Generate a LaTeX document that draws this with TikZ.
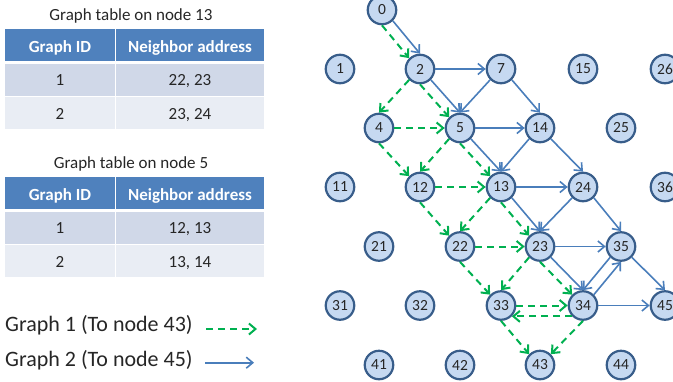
\documentclass[tikz,border=0pt]{standalone}
\usepackage{fontspec}
\setmainfont{Carlito}
\usetikzlibrary{arrows.meta}

\definecolor{nodefill}{HTML}{C6D9F1}
\definecolor{nodeline}{HTML}{385D8A}
\definecolor{linkblue}{HTML}{4A7EBB}
\definecolor{linkgreen}{HTML}{00B050}
\definecolor{hdrblue}{HTML}{4F81BD}
\definecolor{rowdark}{HTML}{D0D8E8}
\definecolor{rowlight}{HTML}{E9EDF4}
\definecolor{ink}{HTML}{262626}

% Two-column routing table: prefix, top of header, title, row 1 and row 2 addresses
\newcommand\routetable[5]{%
  \fill[hdrblue] (5,#2) rectangle (115,{#2+31.7});
  \fill[hdrblue] (116.3,#2) rectangle (264.3,{#2+31.7});
  \fill[rowdark] (5,{#2+34.2}) rectangle (115,{#2+66.4});
  \fill[rowdark] (116.3,{#2+34.2}) rectangle (264.3,{#2+66.4});
  \fill[rowlight] (5,{#2+67.7}) rectangle (115,{#2+100});
  \fill[rowlight] (116.3,{#2+67.7}) rectangle (264.3,{#2+100});
  \node[tabtext,anchor=base] (#1title) at (131,{#2-8.6}) {#3};
  \node[hdrtext] (#1hid) at (60,{#2+23}) {Graph ID};
  \node[hdrtext] (#1hnb) at (190,{#2+23}) {Neighbor address};
  \node[tabtext] (#1ida) at (60,{#2+56.4}) {1};
  \node[tabtext] (#1nba) at (190,{#2+56.4}) {#4};
  \node[tabtext] (#1idb) at (60,{#2+89.7}) {2};
  \node[tabtext] (#1nbb) at (190,{#2+89.7}) {#5};
}

\begin{document}
\begin{tikzpicture}[x=1pt,y=-1pt,
  vtx/.style={circle,draw=nodeline,fill=nodefill,line width=2.2pt,
    minimum size=28.5pt,inner sep=0pt,text=ink,font=\fontsize{15.5}{17}\selectfont},
  tabtext/.style={anchor=base,inner sep=0pt,text=ink,font=\fontsize{17}{20}\selectfont},
  hdrtext/.style={anchor=base,inner sep=0pt,text=white,font=\fontsize{17}{20}\selectfont\bfseries},
  legtext/.style={anchor=base west,inner sep=0pt,text=ink,font=\fontsize{22}{26}\selectfont},
  gpath/.style={draw=linkgreen,line width=2pt,dash pattern=on 7pt off 5pt,
    -{Straight Barb[length=6.5pt,width=11pt,line width=2pt]}},
  bpath/.style={draw=linkblue,line width=1.6pt,
    -{Straight Barb[length=6.5pt,width=11pt,line width=1.6pt]}}]

\useasboundingbox (0,0) rectangle (673,381);

% tables
\routetable{ta}{29.3}{Graph table on node 13}{22, 23}{23, 24}
\routetable{tb}{177.3}{Graph table on node 5}{12, 13}{13, 14}

% legend
\node[legtext] (leg1) at (5,331) {Graph 1 (To node 43)};
\node[legtext] (leg2) at (5,366) {Graph 2 (To node 45)};
\coordinate (leg1a) at (206,329);
\coordinate (leg1b) at (257,329);
\coordinate (leg2a) at (205,362.7);
\coordinate (leg2b) at (254,362.7);
\draw[gpath] (leg1a) -- (leg1b);
\draw[bpath] (leg2a) -- (leg2b);

% grid of nodes
\node[vtx] (n0)  at (382,10) {0};
\node[vtx] (n1)  at (340,69) {1};
\node[vtx] (n2)  at (420,69) {2};
\node[vtx] (n7)  at (501,69) {7};
\node[vtx] (n15) at (583,69) {15};
\node[vtx] (n26) at (665,69) {26};
\node[vtx] (n4)  at (379,128) {4};
\node[vtx] (n5)  at (460,128) {5};
\node[vtx] (n14) at (540,128) {14};
\node[vtx] (n25) at (621,128) {25};
\node[vtx] (n11) at (340,187) {11};
\node[vtx] (n12) at (420,187) {12};
\node[vtx] (n13) at (501,187) {13};
\node[vtx] (n24) at (583,187) {24};
\node[vtx] (n36) at (665,187) {36};
\node[vtx] (n21) at (379,246.5) {21};
\node[vtx] (n22) at (460,246.5) {22};
\node[vtx] (n23) at (540,246.5) {23};
\node[vtx] (n35) at (621,246.5) {35};
\node[vtx] (n31) at (340,305.5) {31};
\node[vtx] (n32) at (420,305.5) {32};
\node[vtx] (n33) at (501,305.5) {33};
\node[vtx] (n34) at (583,305.5) {34};
\node[vtx] (n45) at (665,305.5) {45};
\node[vtx] (n41) at (379,365) {41};
\node[vtx] (n42) at (460,365) {42};
\node[vtx] (n43) at (540,365) {43};
\node[vtx] (n44) at (621,365) {44};

% graph 2 (towards node 45)
\draw[bpath] (n0.315)  -- (n2.90);
\draw[bpath] (n2.0)    -- (n7.180);
\draw[bpath] (n2.315)  -- (n5.90);
\draw[bpath] (n7.225)  -- (n5.90);
\draw[bpath] (n7.315)  -- (n14.90);
\draw[bpath] (n5.0)    -- (n14.180);
\draw[bpath] (n5.315)  -- (n13.90);
\draw[bpath] (n14.225) -- (n13.90);
\draw[bpath] (n14.315) -- (n24.90);
\draw[bpath] (n13.0)   -- (n24.180);
\draw[bpath] (n13.315) -- (n23.90);
\draw[bpath] (n24.225) -- (n23.90);
\draw[bpath] (n24.315) -- (n35.90);
\draw[bpath] (n23.0)   -- (n35.180);
\draw[bpath] (n23.315) -- (n34.90);
\draw[bpath] (n35.225) -- (n34.90);
\draw[bpath] (n34.45)  -- (n35.270);
\draw[bpath] (n35.315) -- (n45.90);
\draw[bpath] (n34.0)   -- (n45.180);

% graph 1 (towards node 43)
\draw[gpath] (n0.270)  -- (n2.135);
\draw[gpath] (n2.225)  -- (n4.90);
\draw[gpath] (n2.270)  -- (n5.135);
\draw[gpath] (n4.0)    -- (n5.180);
\draw[gpath] (n4.270)  -- (n12.135);
\draw[gpath] (n5.225)  -- (n12.90);
\draw[gpath] (n5.270)  -- (n13.135);
\draw[gpath] (n12.0)   -- (n13.180);
\draw[gpath] (n12.270) -- (n22.135);
\draw[gpath] (n13.225) -- (n22.90);
\draw[gpath] (n13.270) -- (n23.135);
\draw[gpath] (n22.0)   -- (n23.180);
\draw[gpath] (n22.270) -- (n33.135);
\draw[gpath] (n23.225) -- (n33.90);
\draw[gpath] (n23.270) -- (n34.135);
\draw[gpath] (n33.0)   -- (n34.180);
\draw[gpath] (n34.225) -- (n33.315);
\draw[gpath] (n33.270) -- (n43.135);
\draw[gpath] (n34.270) -- (n43.45);

\end{tikzpicture}
\end{document}
